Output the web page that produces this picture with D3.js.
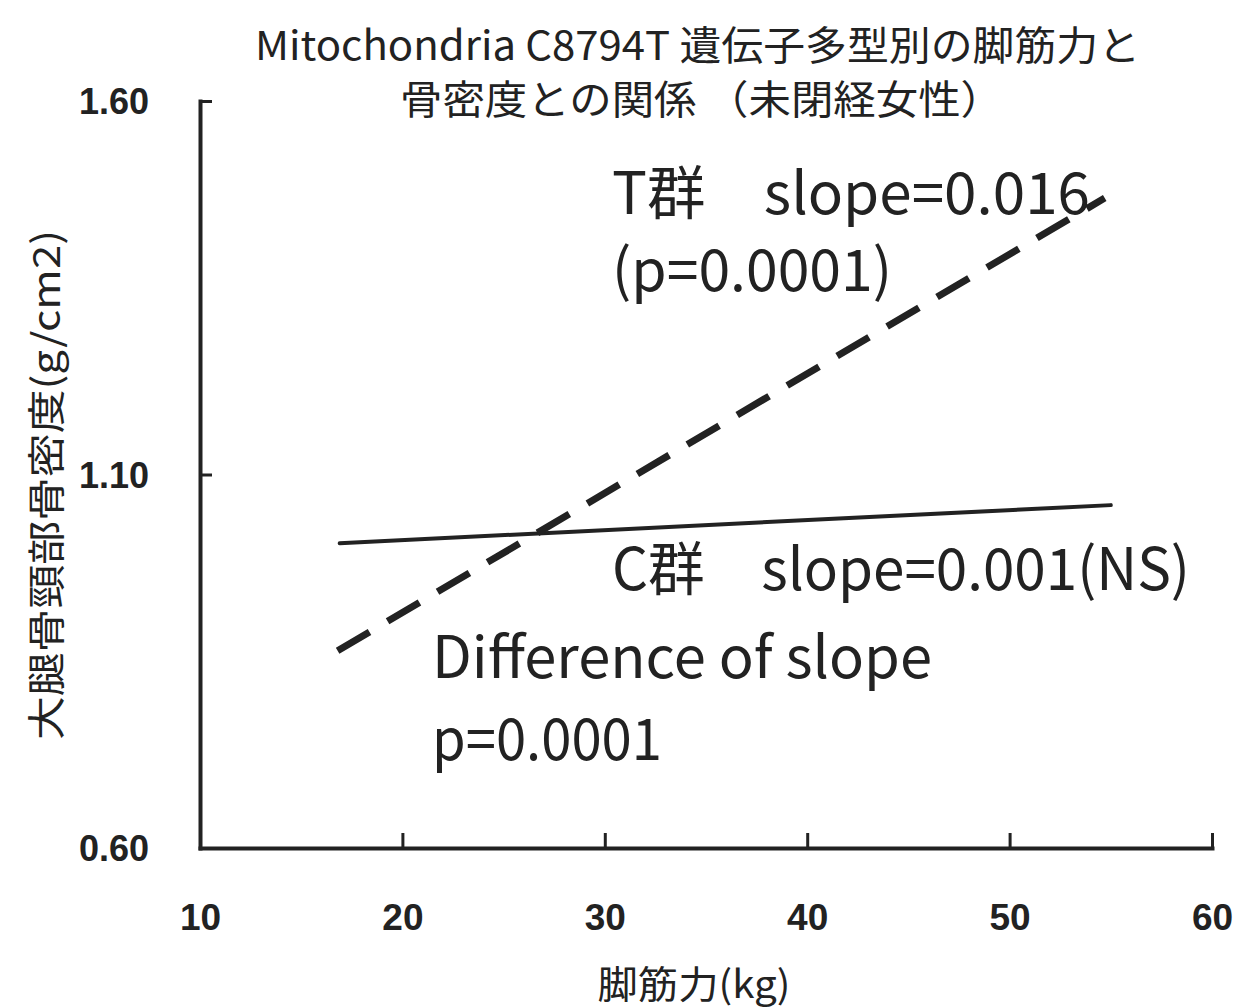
<!DOCTYPE html>
<html>
<head>
<meta charset="utf-8">
<script src="https://d3js.org/d3.v7.min.js"></script>
<style>
  body{ margin:0; background:#fff; }
  svg text{ fill:#222; }
</style>
</head>
<body>
<div id="chart"></div>
<script>
// values
var xTicks = [10, 20, 30, 40, 50, 60]
var yTicks = [0.60, 1.10, 1.60]
var tGroup = [{x:16.8, y:0.864}, {x:54.7, y:1.470}]   // T群 regression line
var cGroup = [{x:16.9, y:1.008}, {x:55.0, y:1.059}]   // C群 regression line
var titleLines = ["Mitochondria C8794T 遺伝子多型別の脚筋力と", "骨密度との関係 （未閉経女性）"]
var yLabel = "大腿骨頸部骨密度(g/cm2)"
var xLabel = "脚筋力(kg)"

var W = 1238, H = 1008
var jp = "'Noto Sans CJK JP', 'Noto Sans', sans-serif"

var x = d3.scaleLinear().domain([10,60]).range([200,1212])
var y = d3.scaleLinear().domain([0.6,1.6]).range([848,101])

var svg = d3.select("#chart").append("svg")
    .attr("width",W).attr("height",H)

svg.append("rect").attr("width",W).attr("height",H).attr("fill","#fff")

// axes
var yAxis = d3.axisLeft(y).tickValues(yTicks)
    .tickSizeInner(-12).tickSizeOuter(0).tickPadding(51)
    .tickFormat(d3.format(".2f"))
var xAxis = d3.axisBottom(x).tickValues(xTicks)
    .tickSizeInner(-15).tickSizeOuter(0).tickPadding(56)

var gy = svg.append("g").attr("transform","translate("+x(10)+",0)").call(yAxis)
var gx = svg.append("g").attr("transform","translate(0,"+y(0.6)+")").call(xAxis)

;[gx,gy].forEach(function(g){
    g.select(".domain").attr("stroke","#222").attr("stroke-width",4).attr("stroke-linecap","square")
    g.selectAll(".tick line").attr("stroke","#222").attr("stroke-width",3)
    g.selectAll(".tick text")
        .attr("font-family","'Liberation Sans', Arial, sans-serif")
        .attr("font-weight","bold").attr("font-size",37).attr("fill","#222")
})
gy.selectAll(".tick text").attr("dy","0.36em").attr("font-size",36)

// regression lines
var line = d3.line().x(function(d){return x(d.x)}).y(function(d){return y(d.y)})

svg.append("path").datum(cGroup)
    .attr("d",line).attr("fill","none")
    .attr("stroke","#222").attr("stroke-width",4).attr("stroke-linecap","round")

svg.append("path").datum(tGroup)
    .attr("d",line).attr("fill","none")
    .attr("stroke","#222").attr("stroke-width",7)
    .attr("stroke-dasharray","37,21")

// title
svg.append("text").text(titleLines[0])
    .attr("x",255).attr("y",60).attr("font-family",jp).attr("font-size",40)
    .attr("textLength",885).attr("lengthAdjust","spacingAndGlyphs")
svg.append("text").text(titleLines[1])
    .attr("x",400).attr("y",114).attr("font-family",jp).attr("font-size",40)
    .attr("textLength",603).attr("lengthAdjust","spacingAndGlyphs")

// annotations
var notes = [
    {t:"T群　slope=0.016", x:612, y:214, w:478},
    {t:"(p=0.0001)", x:612, y:291, w:280},
    {t:"C群　slope=0.001(NS)", x:612, y:590, w:578},
    {t:"Difference of slope", x:432, y:678, w:500},
    {t:"p=0.0001", x:432, y:760, w:230}
]
svg.selectAll(".note").data(notes).enter().append("text")
    .attr("class","note")
    .text(function(d){return d.t})
    .attr("x",function(d){return d.x}).attr("y",function(d){return d.y})
    .attr("font-family",jp).attr("font-size",58)
    .attr("textLength",function(d){return d.w}).attr("lengthAdjust","spacingAndGlyphs")

// axis titles
svg.append("text").text(yLabel)
    .attr("transform","translate(60,485) rotate(-90)")
    .attr("text-anchor","middle").attr("font-family",jp).attr("font-size",38)
    .attr("textLength",510).attr("lengthAdjust","spacingAndGlyphs")

svg.append("text").text(xLabel)
    .attr("x",694).attr("y",998)
    .attr("text-anchor","middle").attr("font-family",jp).attr("font-size",38)
    .attr("textLength",193).attr("lengthAdjust","spacingAndGlyphs")
</script>
</body>
</html>
